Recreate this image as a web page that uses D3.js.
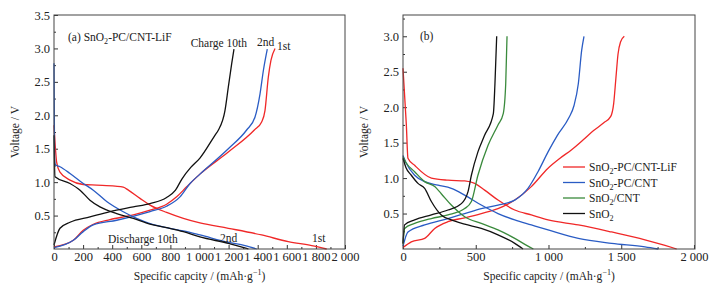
<!DOCTYPE html>
<html>
<head>
<meta charset="utf-8">
<script src="https://cdn.jsdelivr.net/npm/d3@7"></script>
<style>
  body { margin: 0; background: #fff; }
  svg text { font-family: "Liberation Serif", "Times New Roman", serif; fill: #222; }
</style>
</head>
<body>
<div id="chart"></div>
<script>
// ---- panel (a): SnO2-PC/CNT-LiF, cycles 1, 2, 10 ----
const aDischarge1 = [[0, 1.85], [10, 1.5], [18, 1.30], [41, 1.15], [110, 1.03], [201, 0.965], [293, 0.955], [420, 0.94], [476, 0.925], [511, 0.88], [591, 0.757], [660, 0.657], [774, 0.547], [889, 0.458], [1003, 0.39], [1198, 0.31], [1427, 0.21], [1610, 0.11], [1771, 0.05], [1874, 0]];
const aDischarge2 = [[0, 2.78], [4, 1.35], [10, 1.26], [41, 1.23], [110, 1.13], [201, 0.98], [270, 0.88], [362, 0.71], [476, 0.557], [568, 0.458], [660, 0.38], [774, 0.32], [889, 0.27], [1003, 0.21], [1198, 0.10], [1313, 0.05], [1393, 0]];
const aDischarge10 = [[0, 1.7], [4, 1.2], [7, 1.08], [110, 0.98], [179, 0.88], [247, 0.73], [316, 0.63], [431, 0.53], [545, 0.458], [660, 0.373], [774, 0.32], [889, 0.26], [1003, 0.18], [1198, 0.085], [1336, 0]];
const aCharge1 = [[0, 0.03], [133, 0.13], [201, 0.28], [270, 0.37], [385, 0.44], [545, 0.51], [660, 0.58], [774, 0.67], [843, 0.78], [912, 0.93], [1003, 1.12], [1198, 1.45], [1377, 1.78], [1427, 1.9], [1450, 2.07], [1473, 2.57], [1491, 2.82], [1519, 3.0]];
const aCharge2 = [[0, 0.02], [133, 0.13], [201, 0.26], [270, 0.36], [431, 0.43], [660, 0.56], [774, 0.64], [866, 0.78], [935, 0.98], [1003, 1.12], [1198, 1.5], [1324, 1.78], [1381, 1.97], [1416, 2.32], [1439, 2.67], [1466, 2.99]];
const aCharge10 = [[0, 0.06], [41, 0.31], [110, 0.40], [247, 0.48], [385, 0.56], [545, 0.63], [660, 0.68], [774, 0.77], [835, 0.88], [880, 1.05], [940, 1.22], [1003, 1.36], [1106, 1.70], [1130, 1.78], [1175, 2.07], [1198, 2.42], [1221, 2.77], [1237, 2.99]];

// ---- panel (b): four electrodes, 1st cycle ----
const bLifDischarge = [[0, 2.55], [23, 1.75], [34, 1.28], [80, 1.18], [195, 1.0], [309, 0.97], [424, 0.96], [493, 0.925], [561, 0.83], [653, 0.69], [768, 0.55], [882, 0.48], [997, 0.41], [1205, 0.34], [1434, 0.24], [1663, 0.13], [1801, 0.05], [1881, 0]];
const bPcDischarge = [[0, 1.32], [20, 1.22], [80, 1.04], [149, 0.95], [241, 0.90], [332, 0.855], [424, 0.76], [538, 0.62], [653, 0.50], [768, 0.41], [882, 0.34], [997, 0.27], [1205, 0.15], [1434, 0.08], [1663, 0.03], [1755, 0]];
const bCntDischarge = [[0, 1.3], [20, 1.22], [80, 1.09], [149, 0.95], [218, 0.88], [263, 0.78], [332, 0.62], [424, 0.455], [538, 0.36], [653, 0.27], [768, 0.15], [859, 0.04], [896, 0]];
const bSnDischarge = [[0, 1.28], [20, 1.15], [57, 1.04], [103, 0.925], [149, 0.855], [195, 0.67], [263, 0.48], [332, 0.41], [424, 0.35], [538, 0.29], [653, 0.20], [768, 0.08], [825, 0]];
const bLifCharge = [[0, 0.02], [57, 0.10], [149, 0.15], [218, 0.29], [309, 0.385], [424, 0.44], [538, 0.50], [653, 0.57], [768, 0.69], [882, 0.88], [997, 1.14], [1079, 1.28], [1159, 1.40], [1239, 1.54], [1310, 1.67], [1380, 1.78], [1428, 1.87], [1448, 2.05], [1463, 2.4], [1478, 2.75], [1495, 2.92], [1521, 3.0]];
const bPcCharge = [[0, 0.04], [34, 0.24], [149, 0.34], [309, 0.43], [424, 0.50], [538, 0.57], [653, 0.62], [768, 0.69], [859, 0.855], [928, 1.09], [997, 1.37], [1060, 1.60], [1140, 1.85], [1175, 2.02], [1205, 2.33], [1228, 2.80], [1244, 3.0]];
const bCntCharge = [[0, 0.07], [11, 0.29], [80, 0.36], [195, 0.43], [309, 0.48], [424, 0.57], [470, 0.67], [515, 1.04], [584, 1.46], [653, 1.75], [689, 1.91], [706, 2.33], [715, 3.0]];
const bSnCharge = [[0, 0.08], [11, 0.34], [80, 0.41], [195, 0.48], [309, 0.55], [401, 0.64], [447, 0.81], [470, 1.04], [515, 1.37], [560, 1.6], [621, 1.91], [632, 2.33], [644, 3.0]];

const xTicksA = [0, 200, 400, 600, 800, 1000, 1200, 1400, 1600, 1800, 2000];
const xTicksB = [0, 500, 1000, 1500, 2000];
const yTicksA = [0.5, 1.0, 1.5, 2.0, 2.5, 3.0, 3.5];
const yTicksB = [0.5, 1.0, 1.5, 2.0, 2.5, 3.0];

const legendNames = [['SnO', '2', '-PC/CNT-LiF'], ['SnO', '2', '-PC/CNT'], ['SnO', '2', '/CNT'], ['SnO', '2', '']];
const colors = { red: '#f02828', blue: '#2a5cc4', green: '#3a8a3c', black: '#111' };

const width = 716, height = 288;
const svg = d3.select('#chart').append('svg')
  .attr('width', width)
  .attr('height', height);

const fmtX = d => d >= 1000 ? Math.floor(d / 1000) + ' ' + String(d % 1000).padStart(3, '0') : String(d);
const tickFont = 12.5, textFont = 11.5;

function panel(cfg) {
  const x = d3.scaleLinear().domain(cfg.xDomain).range([cfg.left, cfg.right]);
  const y = d3.scaleLinear().domain(cfg.yDomain).range([cfg.bottom, cfg.top]);
  const g = svg.append('g');

  // inward major + minor ticks
  const xAxis = d3.axisBottom(x).tickValues(cfg.xTicks).tickSize(-4).tickPadding(3).tickFormat(fmtX);
  const yAxis = d3.axisLeft(y).tickValues(cfg.yTicks).tickSize(-4).tickPadding(4).tickFormat(d3.format('.1f'));
  const xMinor = d3.axisBottom(x).tickValues(cfg.xMinor).tickSize(-2).tickFormat('');
  const yMinor = d3.axisLeft(y).tickValues(cfg.yMinor).tickSize(-2).tickFormat('');

  [[xAxis, 'x'], [xMinor, 'x'], [yAxis, 'y'], [yMinor, 'y']].forEach(([ax, k]) => {
    const a = g.append('g')
      .attr('transform', k === 'x' ? `translate(0,${cfg.bottom})` : `translate(${cfg.left},0)`)
      .call(ax);
    a.select('.domain').remove();
    a.selectAll('line').attr('stroke', '#333');
    a.selectAll('text').attr('font-size', tickFont).attr('font-family', '"Liberation Serif", serif').attr('fill', '#222');
  });

  const line = d3.line().x(d => x(d[0])).y(d => y(d[1])).curve(d3.curveMonotoneX);
  cfg.series.forEach(s => {
    g.append('path')
      .datum(s.data)
      .attr('d', line)
      .attr('fill', 'none')
      .attr('stroke', s.color)
      .attr('stroke-width', 1.3);
  });

  // frame
  g.append('rect')
    .attr('x', cfg.left).attr('y', cfg.top)
    .attr('width', cfg.right - cfg.left).attr('height', cfg.bottom - cfg.top)
    .attr('fill', 'none').attr('stroke', '#444').attr('stroke-width', 1);

  // axis titles
  g.append('text')
    .attr('transform', `translate(${cfg.left - 35},${(cfg.top + cfg.bottom) / 2}) rotate(-90)`)
    .attr('text-anchor', 'middle').attr('font-size', textFont)
    .text('Voltage / V');
  const xt = g.append('text')
    .attr('x', (cfg.left + cfg.right) / 2).attr('y', 280)
    .attr('text-anchor', 'middle').attr('font-size', textFont);
  xt.append('tspan').text('Specific capcity / (mAh\u00b7g');
  xt.append('tspan').attr('dy', -5).attr('font-size', 8).text('\u22121');
  xt.append('tspan').attr('dy', 5).text(')');

  return { g, x, y };
}

function sub(sel, parts, size) {
  sel.append('tspan').text(parts[0]);
  sel.append('tspan').attr('dy', 3).attr('font-size', size * 0.7).text(parts[1]);
  sel.append('tspan').attr('dy', -3).text(parts[2]);
}

// ---- panel (a) ----
const pa = panel({
  left: 54, right: 345, top: 15, bottom: 249,
  xDomain: [0, 2000], yDomain: [0, 3.5],
  xTicks: xTicksA, yTicks: yTicksA,
  xMinor: d3.range(100, 2000, 200), yMinor: d3.range(0.25, 3.5, 0.5),
  series: [
    { data: aDischarge1, color: colors.red },
    { data: aCharge1, color: colors.red },
    { data: aDischarge2, color: colors.blue },
    { data: aCharge2, color: colors.blue },
    { data: aDischarge10, color: colors.black },
    { data: aCharge10, color: colors.black }
  ]
});

sub(pa.g.append('text').attr('x', 68).attr('y', 41).attr('font-size', textFont), ['(a) SnO', '2', '-PC/CNT-LiF'], textFont);
pa.g.append('text').attr('x', 247).attr('y', 47).attr('text-anchor', 'end').attr('font-size', textFont).text('Charge 10th');
pa.g.append('text').attr('x', 257).attr('y', 46).attr('font-size', textFont).text('2nd');
pa.g.append('text').attr('x', 277).attr('y', 50).attr('font-size', textFont).text('1st');
pa.g.append('text').attr('x', 108).attr('y', 243).attr('font-size', textFont).text('Discharge 10th');
pa.g.append('text').attr('x', 220).attr('y', 242).attr('font-size', textFont).text('2nd');
pa.g.append('text').attr('x', 312).attr('y', 242).attr('font-size', textFont).text('1st');

// ---- panel (b) ----
const pb = panel({
  left: 403, right: 695, top: 15, bottom: 249,
  xDomain: [0, 2007], yDomain: [0, 3.3],
  xTicks: xTicksB, yTicks: yTicksB,
  xMinor: d3.range(250, 2000, 500), yMinor: d3.range(0.25, 3.3, 0.5),
  series: [
    { data: bLifDischarge, color: colors.red },
    { data: bLifCharge, color: colors.red },
    { data: bPcDischarge, color: colors.blue },
    { data: bPcCharge, color: colors.blue },
    { data: bCntDischarge, color: colors.green },
    { data: bCntCharge, color: colors.green },
    { data: bSnDischarge, color: colors.black },
    { data: bSnCharge, color: colors.black }
  ]
});

pb.g.append('text').attr('x', 420).attr('y', 40).attr('font-size', textFont).text('(b)');

const legendColors = [colors.red, colors.blue, colors.green, colors.black];
legendNames.forEach((n, i) => {
  const yy = 167 + i * 15.5;
  pb.g.append('line')
    .attr('x1', 563).attr('x2', 585).attr('y1', yy).attr('y2', yy)
    .attr('stroke', legendColors[i]).attr('stroke-width', 1.3);
  sub(pb.g.append('text').attr('x', 589).attr('y', yy + 4).attr('font-size', textFont), n, textFont);
});
</script>
</body>
</html>
